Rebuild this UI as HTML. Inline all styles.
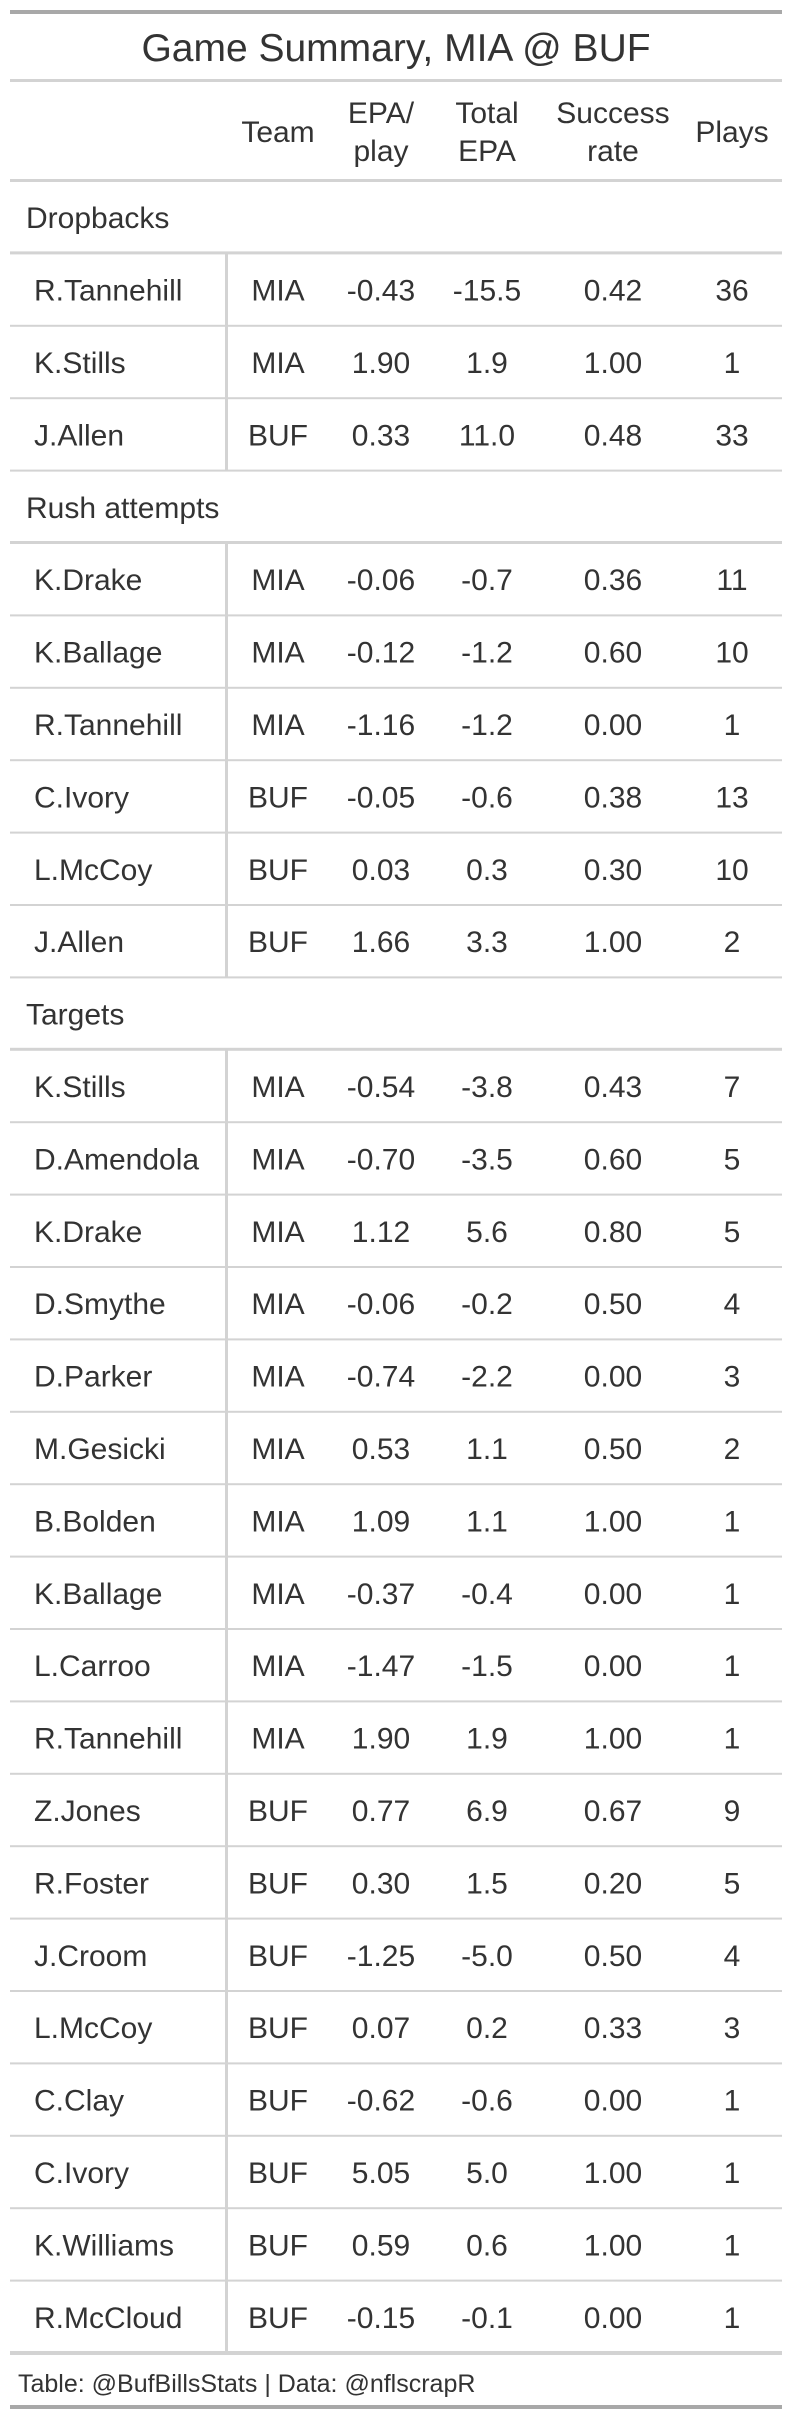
<!DOCTYPE html>
<html><head><meta charset="utf-8"><style>
html,body{margin:0;padding:0;background:#fff;}
svg{display:block;font-family:"Liberation Sans",Arial,sans-serif;}
</style></head><body>
<svg id="tbl" width="792" height="2419" viewBox="0 0 792 2419" xmlns="http://www.w3.org/2000/svg"></svg>
<script>
const groupLabels = ["Dropbacks","Rush attempts","Targets"];
const groupSizes = [3,6,18];
const names = ["R.Tannehill","K.Stills","J.Allen","K.Drake","K.Ballage","R.Tannehill","C.Ivory","L.McCoy","J.Allen","K.Stills","D.Amendola","K.Drake","D.Smythe","D.Parker","M.Gesicki","B.Bolden","K.Ballage","L.Carroo","R.Tannehill","Z.Jones","R.Foster","J.Croom","L.McCoy","C.Clay","C.Ivory","K.Williams","R.McCloud"];
const teams = ["MIA","MIA","BUF","MIA","MIA","MIA","BUF","BUF","BUF","MIA","MIA","MIA","MIA","MIA","MIA","MIA","MIA","MIA","MIA","BUF","BUF","BUF","BUF","BUF","BUF","BUF","BUF"];
const epaPlay = ["-0.43","1.90","0.33","-0.06","-0.12","-1.16","-0.05","0.03","1.66","-0.54","-0.70","1.12","-0.06","-0.74","0.53","1.09","-0.37","-1.47","1.90","0.77","0.30","-1.25","0.07","-0.62","5.05","0.59","-0.15"];
const totalEpa = ["-15.5","1.9","11.0","-0.7","-1.2","-1.2","-0.6","0.3","3.3","-3.8","-3.5","5.6","-0.2","-2.2","1.1","1.1","-0.4","-1.5","1.9","6.9","1.5","-5.0","0.2","-0.6","5.0","0.6","-0.1"];
const successRate = ["0.42","1.00","0.48","0.36","0.60","0.00","0.38","0.30","1.00","0.43","0.60","0.80","0.50","0.00","0.50","1.00","0.00","0.00","1.00","0.67","0.20","0.50","0.33","0.00","1.00","1.00","0.00"];
const plays = ["36","1","33","11","10","1","13","10","2","7","5","5","4","3","2","1","1","1","1","9","5","4","3","1","1","1","1"];

const svg = document.getElementById('tbl');
const NS = "http://www.w3.org/2000/svg";
function mk(tag, attrs, text){
  const e = document.createElementNS(NS, tag);
  for (const k in attrs) e.setAttribute(k, attrs[k]);
  if (text !== undefined) e.textContent = text;
  svg.appendChild(e);
  return e;
}
const TXT = "#333333", LINE = "#D3D3D3", THICK = "#A8A8A8";
const L = 10, R = 782, FS = 30;
const colX = [278, 381, 487, 613, 732];

// top border and title
let e = mk('rect',{x:L,y:10,width:R-L,height:4,fill:THICK});
 
e = mk('text',{x:396,y:61,'text-anchor':'middle','font-size':39,fill:TXT},'Game Summary, MIA @ BUF');
 
e = mk('rect',{x:L,y:79,width:R-L,height:3,fill:LINE});
 

// headers
const headers = [["Team"],["EPA/","play"],["Total","EPA"],["Success","rate"],["Plays"]];
const hNames = ['team-header','epa-per-play-header','total-epa-header','success-rate-header','plays-header'];
headers.forEach((h,i)=>{
  const ys = h.length===1 ? [131] : [112,150];
  h.forEach((t,j)=>{
    const el = mk('text',{x:colX[i],y:ys[j]+11,'text-anchor':'middle','font-size':FS,fill:TXT},t);
    
    
  });
});
e = mk('rect',{x:L,y:179,width:R-L,height:3,fill:LINE});
 

// body
const RH = 72.4;
let y = 181, idx = 0;
groupLabels.forEach((g,gi)=>{
  let el = mk('text',{x:26,y:y+RH/2+11,'font-size':FS,fill:TXT},g);
  
  
  y += RH;
  el = mk('rect',{x:L,y:y-2,width:R-L,height:3,fill:LINE});
  
  
  const top = y;
  for (let k=0;k<groupSizes[gi];k++,idx++){
    const cy = y + RH/2 + 11;
    el = mk('text',{x:34,y:cy,'font-size':FS,fill:TXT},names[idx]);
    
    
    const vals = [teams[idx],epaPlay[idx],totalEpa[idx],successRate[idx],plays[idx]];
    const cn = ['team-cell','epa-per-play-cell','total-epa-cell','success-rate-cell','plays-cell'];
    vals.forEach((v,c)=>{
      const t = mk('text',{x:colX[c],y:cy,'text-anchor':'middle','font-size':FS,fill:TXT},v);
      
      
    });
    y += RH;
    const last = (gi===groupLabels.length-1 && k===groupSizes[gi]-1);
    el = mk('rect',{x:L,y:y-(last?2:1),width:R-L,height:last?4:2,fill:LINE});
    
    
  }
  el = mk('rect',{x:225,y:top,width:3,height:y-top,fill:LINE});
  
  
});

e = mk('text',{x:18,y:2392,'font-size':25,fill:TXT},'Table: @BufBillsStats | Data: @nflscrapR');
 
e = mk('rect',{x:L,y:2405,width:R-L,height:4,fill:THICK});
 
</script>
</body></html>
